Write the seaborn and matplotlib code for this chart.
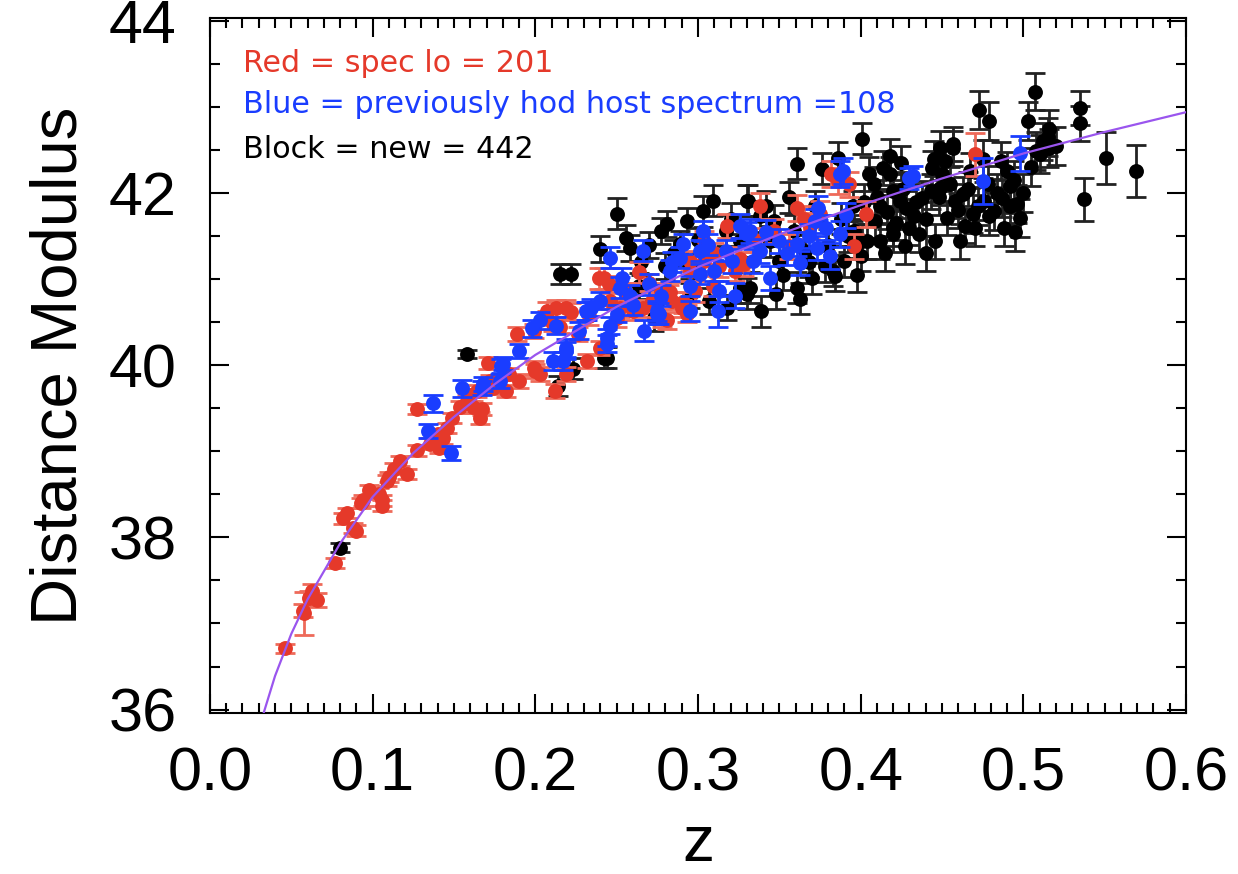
import matplotlib
matplotlib.use("Agg")
import matplotlib.pyplot as plt
from matplotlib.ticker import MultipleLocator, FormatStrFormatter
import numpy as np
import pandas as pd
import seaborn as sns

# ---------------- data ----------------
z_red = [0.046, 0.058, 0.061, 0.063, 0.066, 0.057, 0.077, 0.082, 0.084, 0.088,
         0.090, 0.093, 0.094, 0.104, 0.106, 0.106, 0.109, 0.117, 0.121, 0.127,
         0.127, 0.135, 0.141, 0.146, 0.149, 0.154, 0.158, 0.162, 0.166, 0.167,
         0.171, 0.174, 0.182, 0.189, 0.190, 0.199, 0.199, 0.203, 0.207, 0.212,
         0.213, 0.215, 0.219, 0.222, 0.226, 0.232, 0.233, 0.240, 0.242, 0.246,
         0.250, 0.255, 0.260, 0.264, 0.270, 0.277, 0.281, 0.283, 0.284, 0.291,
         0.293, 0.295, 0.298, 0.304, 0.304, 0.309, 0.313, 0.318, 0.323, 0.326,
         0.328, 0.338, 0.347, 0.356, 0.361, 0.369, 0.375, 0.382, 0.386, 0.393,
         0.396, 0.403, 0.470,
         0.207, 0.219, 0.239, 0.245, 0.266, 0.282, 0.290, 0.295, 0.184, 0.200,
         0.172, 0.164, 0.211, 0.252, 0.272, 0.278, 0.110, 0.113, 0.098, 0.140,
         0.143, 0.160, 0.310, 0.335, 0.365]
mu_red = [36.71, 37.12, 37.30, 37.38, 37.27, 37.15, 37.70, 38.22, 38.28, 38.11,
          38.08, 38.40, 38.43, 38.51, 38.37, 38.43, 38.66, 38.89, 38.74, 39.01,
          39.49, 39.09, 39.04, 39.27, 39.39, 39.51, 39.59, 39.51, 39.39, 39.49,
          40.03, 39.74, 39.70, 40.36, 39.82, 39.97, 40.40, 39.90, 40.55, 39.70,
          40.66, 40.45, 39.90, 40.62, 40.36, 40.05, 40.57, 40.20, 41.01, 40.75,
          40.55, 40.86, 40.63, 41.08, 40.96, 40.86, 40.52, 40.85, 40.75, 40.73,
          40.60, 41.10, 40.86, 41.21, 41.44, 40.92, 41.15, 41.62, 41.10, 41.23,
          41.18, 41.85, 41.56, 41.38, 41.83, 41.62, 41.76, 42.22, 42.14, 42.10,
          41.38, 41.76, 42.45,
          40.63, 40.66, 41.01, 40.94, 40.66, 40.83, 40.66, 41.21, 39.90, 39.93,
          39.82, 39.70, 40.48, 40.66, 40.75, 40.55, 38.70, 38.80, 38.55, 39.20,
          39.15, 39.65, 41.30, 41.45, 41.70]
err_red = [0.05, 0.25, 0.08, 0.08, 0.08, 0.08, 0.06, 0.06, 0.06, 0.06,
           0.06, 0.06, 0.06, 0.06, 0.06, 0.06, 0.06, 0.06, 0.06, 0.06,
           0.06, 0.06, 0.06, 0.06, 0.06, 0.07, 0.07, 0.07, 0.07, 0.07,
           0.07, 0.07, 0.07, 0.08, 0.08, 0.08, 0.08, 0.08, 0.08, 0.08,
           0.10, 0.08, 0.08, 0.10, 0.08, 0.08, 0.10, 0.08, 0.12, 0.10,
           0.10, 0.10, 0.10, 0.12, 0.10, 0.10, 0.10, 0.12, 0.10, 0.12,
           0.10, 0.12, 0.12, 0.12, 0.12, 0.12, 0.12, 0.14, 0.12, 0.14,
           0.14, 0.15, 0.14, 0.14, 0.15, 0.15, 0.15, 0.15, 0.15, 0.15,
           0.15, 0.15, 0.25,
           0.10, 0.10, 0.12, 0.10, 0.10, 0.10, 0.10, 0.12, 0.07, 0.08,
           0.07, 0.07, 0.08, 0.10, 0.10, 0.10, 0.06, 0.06, 0.06, 0.06,
           0.06, 0.07, 0.12, 0.14, 0.15]

z_blue = [0.137, 0.134, 0.148, 0.155, 0.167, 0.178, 0.179, 0.190, 0.198, 0.203,
          0.211, 0.213, 0.217, 0.219, 0.227, 0.232, 0.234, 0.240, 0.244, 0.244,
          0.246, 0.252, 0.258, 0.266, 0.267, 0.275, 0.275, 0.277, 0.283, 0.289,
          0.291, 0.295, 0.295, 0.301, 0.301, 0.303, 0.312, 0.313, 0.317, 0.321,
          0.323, 0.330, 0.332, 0.334, 0.338, 0.344, 0.350, 0.361, 0.363, 0.372,
          0.373, 0.374, 0.379, 0.381, 0.387, 0.387, 0.391, 0.430, 0.432, 0.475,
          0.498,
          0.168, 0.180, 0.219, 0.231, 0.250, 0.253, 0.270, 0.276, 0.246, 0.284,
          0.306, 0.326, 0.342, 0.355, 0.368, 0.389, 0.310, 0.260]
mu_blue = [39.56, 39.24, 38.98, 39.73, 39.74, 39.82, 39.99, 40.17, 40.43, 40.52,
           40.05, 40.46, 40.05, 40.17, 40.40, 40.63, 40.67, 40.75, 40.25, 40.32,
           40.46, 40.90, 40.81, 41.33, 40.40, 40.63, 40.60, 40.81, 41.10, 41.25,
           41.41, 40.92, 40.63, 41.06, 41.33, 41.56, 40.63, 40.86, 41.33, 41.21,
           40.81, 41.52, 41.56, 41.21, 41.33, 41.01, 41.44, 41.41, 41.19, 41.68,
           41.36, 41.83, 41.60, 41.27, 42.22, 41.52, 41.74, 42.17, 42.20, 42.14,
           42.46,
           39.78, 40.02, 40.20, 40.63, 40.60, 41.01, 40.94, 40.60, 41.25, 41.20,
           41.40, 41.62, 41.55, 41.30, 41.50, 42.26, 41.10, 40.70]
err_blue = [0.10, 0.08, 0.08, 0.10, 0.08, 0.08, 0.08, 0.08, 0.10, 0.10,
            0.10, 0.10, 0.10, 0.10, 0.10, 0.10, 0.10, 0.10, 0.10, 0.10,
            0.10, 0.12, 0.12, 0.12, 0.12, 0.12, 0.12, 0.12, 0.12, 0.12,
            0.12, 0.12, 0.12, 0.12, 0.12, 0.12, 0.18, 0.12, 0.12, 0.14,
            0.14, 0.14, 0.14, 0.14, 0.14, 0.14, 0.14, 0.14, 0.14, 0.14,
            0.14, 0.14, 0.15, 0.15, 0.15, 0.15, 0.15, 0.12, 0.12, 0.27,
            0.20,
            0.08, 0.08, 0.10, 0.10, 0.10, 0.12, 0.12, 0.12, 0.12, 0.12,
            0.12, 0.14, 0.14, 0.14, 0.14, 0.15, 0.12, 0.12]

z_black = [0.080, 0.158, 0.214, 0.215, 0.222, 0.223, 0.240, 0.242, 0.244, 0.250,
           0.256, 0.258, 0.264, 0.273, 0.277, 0.280, 0.281, 0.289, 0.293, 0.295,
           0.295, 0.303, 0.307, 0.309, 0.317, 0.318, 0.326, 0.326, 0.330, 0.330,
           0.331, 0.332, 0.338, 0.339, 0.344, 0.347, 0.348, 0.350, 0.359, 0.361,
           0.361, 0.363, 0.366, 0.370, 0.376, 0.378, 0.383, 0.384, 0.386, 0.390,
           0.396, 0.400, 0.401, 0.401, 0.404, 0.405, 0.408, 0.409, 0.412, 0.412,
           0.414, 0.418, 0.418, 0.420, 0.420, 0.420, 0.424, 0.427, 0.428, 0.433,
           0.436, 0.438, 0.443, 0.444, 0.446, 0.449, 0.449, 0.450, 0.452, 0.453,
           0.457, 0.457, 0.458, 0.461, 0.463, 0.464, 0.467, 0.469, 0.473, 0.476,
           0.479, 0.479, 0.482, 0.486, 0.487, 0.490, 0.492, 0.492, 0.496, 0.498,
           0.503, 0.507, 0.508, 0.512, 0.516, 0.516, 0.535, 0.535, 0.537, 0.551,
           0.569,
           0.402, 0.410, 0.416, 0.422, 0.426, 0.430, 0.434, 0.440, 0.448, 0.455,
           0.460, 0.466, 0.472, 0.478, 0.484, 0.488, 0.494, 0.500, 0.505, 0.510,
           0.515, 0.520, 0.395, 0.388, 0.372, 0.356, 0.342, 0.320, 0.300, 0.285,
           0.270, 0.265, 0.352, 0.368, 0.380, 0.392, 0.398, 0.415, 0.440, 0.470,
           0.495, 0.475, 0.445, 0.425]
mu_black = [37.88, 40.13, 39.76, 41.06, 41.06, 39.96, 41.35, 40.09, 40.09, 41.76,
            41.48, 41.36, 40.92, 40.55, 41.56, 41.15, 41.64, 41.41, 41.68, 41.15,
            40.81, 41.79, 40.75, 41.91, 41.56, 40.67, 40.90, 41.44, 40.83, 41.91,
            41.91, 40.90, 41.73, 40.63, 41.44, 41.68, 40.83, 41.21, 41.56, 42.34,
            40.90, 40.77, 41.33, 41.01, 42.28, 41.15, 41.10, 41.04, 42.41, 41.21,
            41.56, 41.27, 42.63, 41.44, 41.44, 42.22, 42.10, 41.68, 41.85, 41.44,
            42.29, 42.22, 42.43, 41.52, 41.59, 42.02, 41.91, 41.38, 41.83, 41.73,
            41.52, 41.94, 42.02, 42.29, 41.44, 42.52, 42.06, 42.22, 42.37, 41.71,
            42.52, 42.57, 41.91, 41.44, 41.99, 41.62, 42.26, 41.76, 42.97, 41.91,
            42.84, 41.73, 41.79, 42.37, 41.94, 42.26, 41.85, 42.08, 41.87, 41.71,
            42.84, 43.18, 42.49, 42.60, 42.75, 42.52, 42.99, 42.81, 41.93, 42.41,
            42.26,
            41.90, 41.95, 41.78, 41.65, 42.05, 41.60, 41.90, 41.70, 41.95, 42.10,
            41.80, 42.05, 41.85, 42.10, 42.00, 41.60, 42.15, 42.00, 42.30, 42.45,
            42.65, 42.55, 41.85, 41.70, 41.85, 41.95, 41.85, 41.70, 41.45, 41.30,
            41.40, 41.20, 41.05, 41.20, 41.40, 41.50, 41.05, 41.30, 41.30, 41.60,
            41.55, 42.40, 42.40, 42.35]
err_black = [0.05, 0.05, 0.12, 0.12, 0.12, 0.12, 0.15, 0.12, 0.12, 0.18,
             0.15, 0.15, 0.15, 0.15, 0.15, 0.15, 0.15, 0.15, 0.15, 0.15,
             0.15, 0.18, 0.15, 0.18, 0.18, 0.15, 0.18, 0.18, 0.18, 0.18,
             0.18, 0.18, 0.18, 0.18, 0.18, 0.18, 0.18, 0.18, 0.18, 0.18,
             0.18, 0.18, 0.18, 0.18, 0.18, 0.18, 0.18, 0.18, 0.18, 0.18,
             0.18, 0.18, 0.18, 0.20, 0.20, 0.20, 0.20, 0.20, 0.20, 0.20,
             0.20, 0.20, 0.20, 0.20, 0.20, 0.20, 0.20, 0.20, 0.20, 0.20,
             0.20, 0.20, 0.20, 0.20, 0.20, 0.20, 0.20, 0.20, 0.20, 0.20,
             0.20, 0.20, 0.20, 0.20, 0.20, 0.20, 0.20, 0.22, 0.22, 0.22,
             0.22, 0.22, 0.22, 0.22, 0.22, 0.22, 0.22, 0.22, 0.22, 0.22,
             0.22, 0.22, 0.22, 0.22, 0.22, 0.22, 0.20, 0.20, 0.25, 0.30,
             0.30,
             0.20, 0.20, 0.20, 0.20, 0.20, 0.20, 0.20, 0.20, 0.20, 0.20,
             0.20, 0.20, 0.22, 0.22, 0.22, 0.22, 0.22, 0.22, 0.22, 0.22,
             0.22, 0.22, 0.18, 0.18, 0.18, 0.18, 0.18, 0.18, 0.15, 0.15,
             0.15, 0.15, 0.18, 0.18, 0.18, 0.18, 0.20, 0.20, 0.20, 0.22,
             0.22, 0.22, 0.20, 0.20]

curve_z = [0.033, 0.040, 0.050, 0.060, 0.080, 0.100, 0.125, 0.150, 0.175, 0.200,
           0.250, 0.300, 0.350, 0.400, 0.450, 0.500, 0.550, 0.600]
curve_mu = [35.96, 36.39, 36.88, 37.28, 37.93, 38.47, 38.98, 39.40, 39.78, 40.12,
            40.68, 41.14, 41.52, 41.86, 42.17, 42.46, 42.71, 42.94]

labels = ["Red = spec lo = 201",
          "Blue = previously hod host spectrum =108",
          "Block = new = 442"]

RED = "#e5392a"
BLUE = "#1a3dff"
BLACK = "#000000"
LINE = "#9a55ee"

# ---------------- figure ----------------
sns.set_style("ticks")
plt.rcParams["font.family"] = ["Liberation Sans", "DejaVu Sans"]
plt.rcParams["text.color"] = "black"
plt.rcParams["axes.labelcolor"] = "black"
plt.rcParams["xtick.color"] = "black"
plt.rcParams["ytick.color"] = "black"

fig = plt.figure(figsize=(12.38, 8.74), dpi=100)
ax = fig.add_axes([0.1696, 0.1842, 0.7884, 0.7948])

series = [
    (z_black, mu_black, err_black, BLACK, "#222222", 2),
    (z_red, mu_red, err_red, RED, "#ee6a5a", 3),
    (z_blue, mu_blue, err_blue, BLUE, BLUE, 4),
]
for zz, mm, ee, col, ecol, zo in series:
    df = pd.DataFrame({"z": zz, "mu": mm, "err": ee})
    ax.errorbar(df["z"], df["mu"], yerr=df["err"], fmt="none", ecolor=ecol,
                elinewidth=2.0, capsize=7, capthick=2.0, zorder=zo)
    sns.scatterplot(data=df, x="z", y="mu", color=col, s=115, linewidth=0,
                    ax=ax, zorder=zo + 0.5, legend=False)

sns.lineplot(x=curve_z, y=curve_mu, color=LINE, lw=1.6, ax=ax, zorder=10,
             sort=False, estimator=None)

ax.set_xlim(0.0, 0.6)
ax.set_ylim(35.96, 44.03)
ax.xaxis.set_major_locator(MultipleLocator(0.1))
ax.xaxis.set_minor_locator(MultipleLocator(0.01))
ax.yaxis.set_major_locator(MultipleLocator(2))
ax.yaxis.set_minor_locator(MultipleLocator(0.5))
ax.xaxis.set_major_formatter(FormatStrFormatter("%.1f"))
ax.yaxis.set_major_formatter(FormatStrFormatter("%d"))

ax.tick_params(which="both", direction="in", top=True, right=True,
               width=1.5, color="black", labelcolor="black")
ax.tick_params(which="major", length=14, labelsize=44, pad=24)
ax.tick_params(which="minor", length=7)
for sp in ax.spines.values():
    sp.set_linewidth(1.5)
    sp.set_color("black")

ax.set_xlabel("z", fontsize=46, labelpad=8, color="black")
ax.set_ylabel("Distance Modulus", fontsize=47, labelpad=14, color="black")

text_cols = [RED, BLUE, BLACK]
text_y = [43.51, 43.03, 42.51]
for lab, c, ty in zip(labels, text_cols, text_y):
    ax.text(0.0203, ty, lab, color=c, fontsize=21.7, va="center", ha="left",
            family=["DejaVu Sans"], zorder=12)

fig.savefig("out.png", dpi=100)
